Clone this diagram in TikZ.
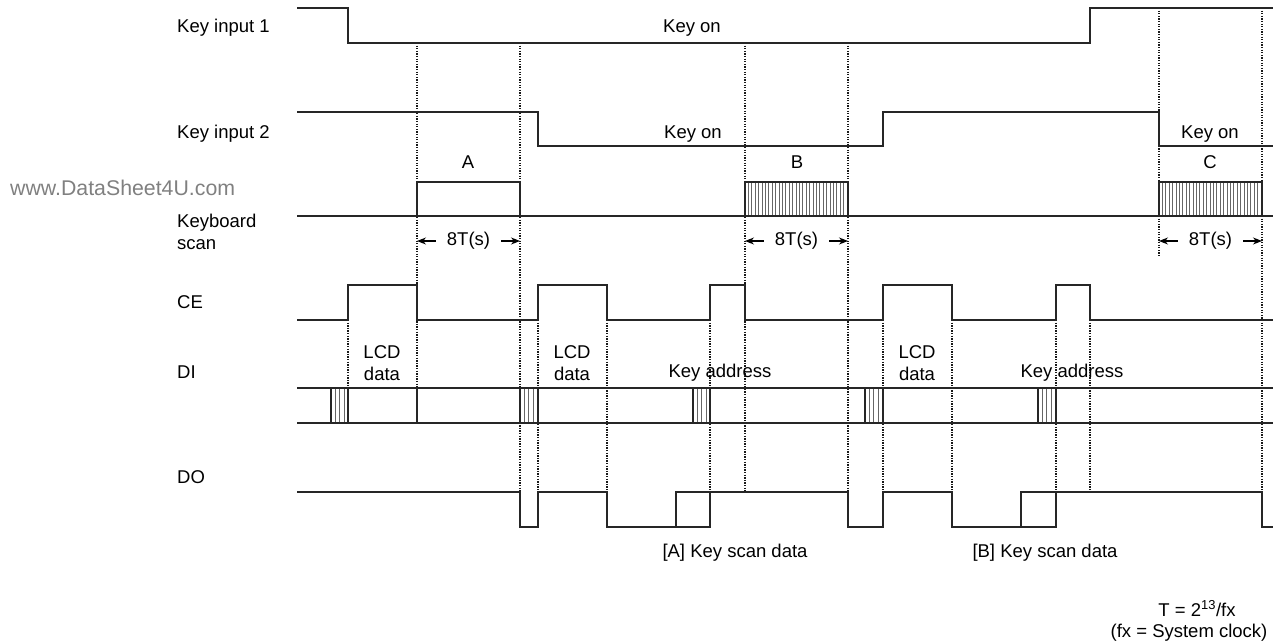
\documentclass[tikz,border=0pt]{standalone}
\usepackage{fontspec}
\setmainfont{Liberation Sans}
\usetikzlibrary{arrows.meta}

\begin{document}
\begin{tikzpicture}[x=1pt, y=-1pt,
  font=\fontsize{18.5}{22.2}\selectfont,
  wave/.style={line width=1.3pt, draw=black!85},
  guide/.style={line width=1.1pt, draw=black!90, dash pattern=on 1.3pt off 1.3pt},
  hatch/.style={line width=0.7pt, draw=black!60},
  sig/.style={anchor=base west, inner sep=0pt},
  txt/.style={anchor=base, inner sep=0pt},
  twoline/.style={anchor=north, inner sep=0pt, align=center},
  span/.style={-{Stealth[length=9pt, width=7pt]}, line width=1.2pt, shorten <=11pt}
]
\useasboundingbox (0,0) rectangle (1275,642);

% signal names
\node[sig] (key1) at (177,33) {Key input 1};
\node[sig] (key2) at (177,138) {Key input 2};
\node[sig, text=black!50, font=\fontsize{21.3}{25}\selectfont] (mark) at (10,195) {www.DataSheet4U.com};
\node[anchor=north west, inner sep=0pt, align=left] (kbd) at (177,214) {Keyboard\\scan};
\node[sig] (ce) at (177,308) {CE};
\node[sig] (di) at (177,378) {DI};
\node[sig] (do) at (177,483) {DO};

% dotted guides
\foreach \x/\t/\b in {348/320/388, 417/43/388, 520/43/492, 538/320/492, 607/320/492,
    710/320/492, 745/43/492, 848/43/492, 883/320/492, 952/320/492, 1056/320/492,
    1090/320/492, 1159/8/256, 1262/8/492}
  \draw[guide] (\x,\t) -- (\x,\b);

% key inputs
\draw[wave] (297,8) -| (348,43) -| (1090,8) -- (1273,8);
\draw[wave] (297,112) -| (538,146) -| (883,112) -| (1159,146) -- (1273,146);
\node[txt] (on1) at (692,33) {Key on};
\node[txt] (on2) at (693,138) {Key on};
\node[txt] (on3) at (1210,138) {Key on};

% keyboard scan
\draw[wave] (297,216) -- (1273,216);
\draw[wave] (417,182) rectangle (520,216);
\foreach \a in {745,1159} {
  \foreach \h in {3.4,6.8,...,101}
    \draw[hatch] ({\a+\h},182) -- ({\a+\h},216);
  \draw[wave] (\a,182) rectangle ({\a+103},216);
}
\node[txt] (sa) at (468,168) {A};
\node[txt] (sb) at (797,168) {B};
\node[txt] (sc) at (1210,168) {C};

% 8T(s) spans
\foreach \a/\b/\n in {417/520/ta, 745/848/tb, 1159/1262/tc} {
  \coordinate (l\n) at (\a,240);
  \coordinate (r\n) at (\b,240);
  \node[inner sep=0pt] (\n) at ({(\a+\b)/2},241) {8T(s)};
  \draw[span] (\n.west) -- (\n.west -| l\n);
  \draw[span] (\n.east) -- (\n.east -| r\n);
}

% CE
\draw[wave] (297,320) -| (348,285) -| (417,320) -| (538,285) -| (607,320) -| (710,285)
  -| (745,320) -| (883,285) -| (952,320) -| (1056,285) -| (1090,320) -- (1273,320);

% DI
\draw[wave] (297,388) -- (1273,388);
\draw[wave] (297,423) -- (1273,423);
\draw[wave] (417,388) -- (417,423);
\foreach \a/\b in {331/348, 520/538, 693/710, 865/883, 1038/1056} {
  \foreach \h in {4.4,8.8,13.2}
    \draw[hatch] ({\a+\h},388) -- ({\a+\h},423);
  \draw[wave] (\a,388) rectangle (\b,423);
}
\node[twoline] (lcd1) at (382,345) {LCD\\data};
\node[twoline] (lcd2) at (572,345) {LCD\\data};
\node[twoline] (lcd3) at (917,345) {LCD\\data};
\node[txt] (adr1) at (720,377) {Key address};
\node[txt] (adr2) at (1072,377) {Key address};

% DO
\draw[wave] (297,492) -| (520,527) -| (538,492) -| (607,527) -| (710,492) -| (848,527)
  -| (883,492) -| (952,527) -| (1056,492) -| (1262,527) -- (1273,527);
\draw[wave] (676,527) |- (710,492);
\draw[wave] (1021,527) |- (1056,492);
\node[txt] (ska) at (735,557) {[A] Key scan data};
\node[txt] (skb) at (1045,557) {[B] Key scan data};

% note
\node[txt] (per) at (1197,616) {T = 2\textsuperscript{13}/fx};
\node[txt] (clk) at (1189,637) {(fx = System clock)};

\end{tikzpicture}
\end{document}
